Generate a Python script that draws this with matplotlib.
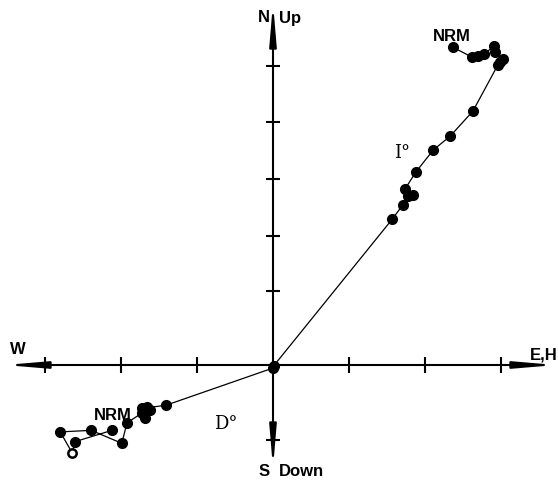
import numpy as np
import matplotlib.pyplot as plt

# Zijderveld diagram, units = one tick on the E-W axis
# vertical-plane projection (I), NRM first, ending at origin
inc_x = [2.37, 2.62, 2.70, 2.78, 2.91, 2.92, 3.03, 2.99, 2.96, 2.63, 2.33,
         2.11, 1.88, 1.74, 1.78, 1.84, 1.71, 1.57, 0.01]
inc_y = [4.18, 4.05, 4.07, 4.09, 4.20, 4.12, 4.03, 3.99, 3.95, 3.34, 3.01,
         2.83, 2.54, 2.32, 2.22, 2.24, 2.11, 1.92, -0.01]

# horizontal-plane projection (D), NRM first, ending at origin
dec_x = [-2.12, -2.61, -2.64, -2.80, -2.39, -1.99, -1.92, -1.72, -1.68,
         -1.62, -1.66, -1.72, -1.41, 0.0]
dec_y = [-0.86, -1.01, -1.16, -0.88, -0.86, -1.03, -0.76, -0.63, -0.70,
         -0.59, -0.55, -0.57, -0.53, -0.04]

x_ticks = [-3, -2, -1, 1, 2, 3]
y_ticks = [3.93, 3.20, 2.45, 1.70, 0.97, -0.99]

PX = 76.0  # pixels per unit


def axis_arrow(ax, x0, y0, x1, y1):
    ax.annotate("", xy=(x1, y1), xytext=(x0, y0),
                arrowprops=dict(arrowstyle="-|>,head_length=2.0,head_width=0.17",
                                lw=1.5, color="black", shrinkA=0, shrinkB=0,
                                mutation_scale=12))


fig = plt.figure(figsize=(5.58, 4.82), dpi=100)
ax = fig.add_axes([0, 0, 1, 1])
ax.set_xlim(-273 / PX, (558 - 273) / PX)
ax.set_ylim((365 - 482) / PX, 365 / PX)
ax.axis("off")

# axes with arrows
axis_arrow(ax, 0, 0, (5 - 273) / PX, 0)
axis_arrow(ax, 0, 0, (556 - 273) / PX, 0)
axis_arrow(ax, 0, 0, 0, (365 - 3) / PX)
axis_arrow(ax, 0, 0, 0, (365 - 468) / PX)

ax.plot(x_ticks, [0] * len(x_ticks), ls="none", marker="|", ms=11,
        mew=1.5, color="black")
ax.plot([0] * len(y_ticks), y_ticks, ls="none", marker="_", ms=10,
        mew=1.5, color="black")

ax.plot(inc_x, inc_y, "-", color="black", lw=0.9, marker="o", ms=7,
        mfc="black", mec="black", zorder=3)
ax.plot(dec_x[:2] + dec_x[3:], dec_y[:2] + dec_y[3:], color="none",
        marker="o", ms=7, mfc="black", mec="black", zorder=3)
ax.plot(dec_x, dec_y, "-", color="black", lw=0.9, zorder=2)
# the lowest point is printed as a broken open circle
ax.plot(dec_x[2], dec_y[2], ls="none", marker="o", ms=6, mfc="white",
        mec="black", mew=1.8, zorder=3)

sans = dict(family="Liberation Sans", weight="bold", color="black", fontsize=12)
ax.text(-3 / PX, (365 - 18) / PX, "N", ha="right", va="center", **sans)
ax.text(6 / PX, (365 - 18) / PX, "Up", ha="left", va="center", **sans)
ax.text(-3 / PX, (365 - 471) / PX, "S", ha="right", va="center", **sans)
ax.text(6 / PX, (365 - 471) / PX, "Down", ha="left", va="center", **sans)
ax.text((18 - 273) / PX, (365 - 349) / PX, "W", ha="center", va="center", **sans)
ax.text((544 - 273) / PX, (365 - 355) / PX, "E,H", ha="center", va="center", **sans)
ax.text((452 - 273) / PX, (365 - 36) / PX, "NRM", ha="center", va="center", **sans)
ax.text((113 - 273) / PX, (365 - 416) / PX, "NRM", ha="center", va="center", **sans)

serif = dict(family="DejaVu Serif", color="black", fontsize=13)
ax.text((402 - 273) / PX, (365 - 153) / PX, "I°", ha="center", va="center", **serif)
ax.text((226 - 273) / PX, (365 - 424) / PX, "D°", ha="center", va="center", **serif)

fig.savefig("out.png", dpi=100)
